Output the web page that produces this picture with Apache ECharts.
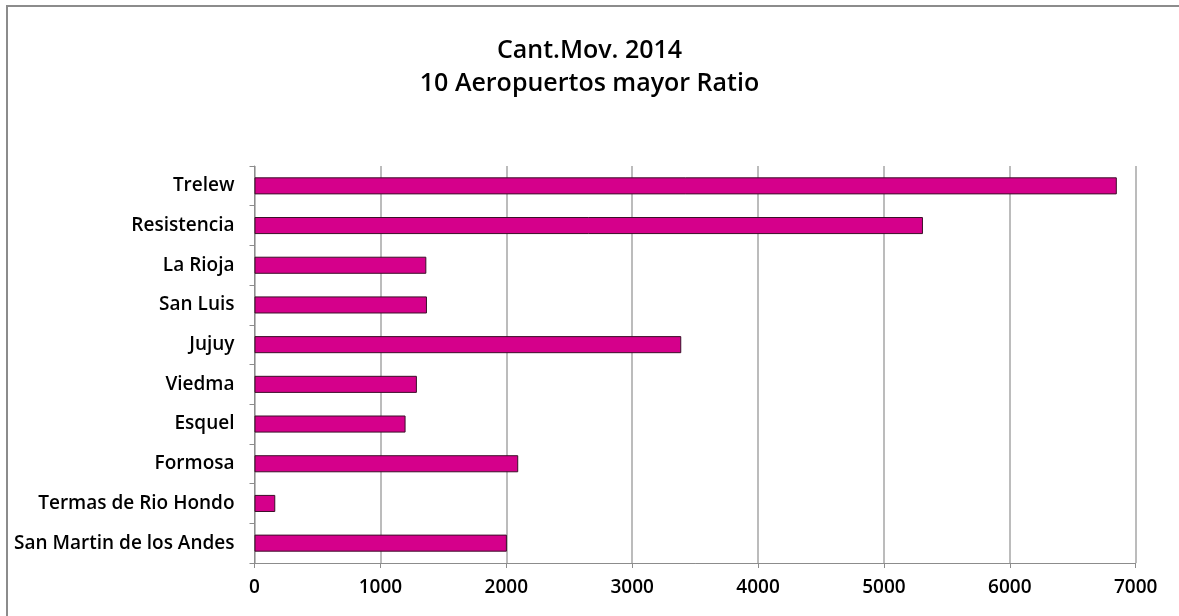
<!DOCTYPE html>
<html>
<head>
<meta charset="utf-8">
<script src="https://cdn.jsdelivr.net/npm/echarts@6/dist/echarts.min.js"></script>
<style>
html,body{margin:0;padding:0;background:#fff;}
#c{width:1179px;height:616px;}
</style>
</head>
<body>
<div id="c"></div>
<script>
var categories = ["Trelew","Resistencia","La Rioja","San Luis","Jujuy","Viedma","Esquel","Formosa","Termas de Rio Hondo","San Martin de los Andes"];
var values = [6850, 5310, 1365, 1370, 3390, 1290, 1200, 2095, 165, 2005];
var xTicks = [0, 1000, 2000, 3000, 4000, 5000, 6000, 7000];
var titleLines = ["Cant.Mov. 2014", "10 Aeropuertos mayor Ratio"];

var font = "'Open Sans', sans-serif";
var chart = echarts.init(document.getElementById('c'), null, {renderer:'canvas'});
chart.setOption({
  animation:false,
  backgroundColor:'#ffffff',
  graphic:[{
    type:'rect', shape:{x:7, y:6, width:1400, height:800},
    style:{fill:'none', stroke:'#8c8c8c', lineWidth:2}, silent:true
  }],
  title:{
    text:titleLines.join('\n'),
    left:'center', top:29,
    textStyle:{fontFamily:font, fontSize:25, fontWeight:600, color:'#000', lineHeight:33}
  },
  grid:{left:254.5, right:43.3, top:166, bottom:53},
  xAxis:{
    type:'value', min:xTicks[0], max:xTicks[xTicks.length-1], interval:1000,
    axisLine:{show:true, lineStyle:{color:'#8c8c8c', width:1}},
    axisTick:{show:true, length:5, lineStyle:{color:'#8c8c8c'}},
    splitLine:{show:true, lineStyle:{color:'#a6a6a6', width:1.5}},
    axisLabel:{color:'#000', fontFamily:font, fontSize:19, fontWeight:600, margin:15,
      formatter:function(v){return String(v);}}
  },
  yAxis:{
    type:'category', data:categories, inverse:true,
    axisLine:{show:true, lineStyle:{color:'#8c8c8c', width:1}},
    axisTick:{show:true, length:5, inside:false, lineStyle:{color:'#8c8c8c'}},
    axisLabel:{color:'#000', fontFamily:font, fontSize:19, fontWeight:600, margin:20}
  },
  series:[{
    type:'bar', data:values, barWidth:'43%',
    itemStyle:{color:'#d5008b', borderColor:'#3a1028', borderWidth:1}
  }]
});
</script>
</body>
</html>
